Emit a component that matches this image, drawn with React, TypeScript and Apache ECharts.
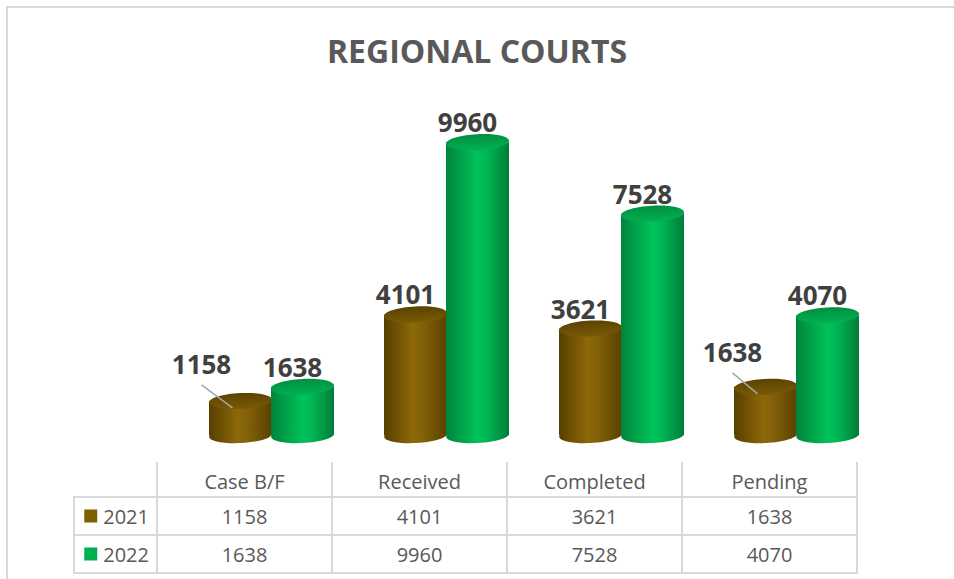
import React, { useEffect, useRef } from "react";
import * as echarts from "echarts";

const categories = ["Case B/F", "Received", "Completed", "Pending"];
const years = ["2021", "2022"];
const values2021 = [1158, 4101, 3621, 1638];
const values2022 = [1638, 9960, 7528, 4070];
const seriesValues = [values2021, values2022];

const FONT = '"Open Sans", "Noto Sans", sans-serif';
const TEXT_GRAY = "#595959";
const LINE_GRAY = "#d9d9d9";

// manual label moves (with leader line), keyed "series-index"
const LABEL_MOVES: Record<string, [number, number]> = {
  "0-0": [-29, -17],
  "0-3": [-23, -15],
};

const palettes = [
  {
    body: [
      [0, "#573f00"],
      [0.45, "#8d6808"],
      [0.6, "#84620a"],
      [1, "#5a4100"],
    ],
    top: [
      [0, "#5a4200"],
      [1, "#7a5a06"],
    ],
  },
  {
    body: [
      [0, "#00843c"],
      [0.5, "#00c25a"],
      [0.65, "#00b653"],
      [1, "#007d38"],
    ],
    top: [
      [0, "#008e40"],
      [1, "#00b252"],
    ],
  },
];

function grad(stops: any[], horizontal: boolean) {
  return new echarts.graphic.LinearGradient(
    0,
    0,
    horizontal ? 1 : 0,
    horizontal ? 0 : 1,
    stops.map(([offset, color]) => ({ offset, color }))
  );
}

function makeCylinder(s: number) {
  return (params: any, api: any) => {
    const i = api.value(0);
    const v = api.value(1);
    const [cx, topY] = api.coord([i, v]);
    const baseY = api.coord([i, 0])[1];
    const w = 63;
    const x0 = s === 0 ? cx - w + 0.5 : cx - 0.5;
    const mid = x0 + w / 2;
    const ry = 8;
    const rot = 0.05;
    const pal = palettes[s];
    const children: any[] = [
      {
        type: "rect",
        shape: { x: x0, y: topY, width: w, height: Math.max(0, baseY - topY) },
        style: { fill: grad(pal.body, true) },
      },
      {
        type: "ellipse",
        shape: { cx: mid, cy: baseY, rx: w / 2, ry },
        rotation: rot,
        originX: mid,
        originY: baseY,
        style: { fill: grad(pal.body, true) },
      },
      {
        type: "ellipse",
        shape: { cx: mid, cy: topY, rx: w / 2, ry },
        rotation: rot,
        originX: mid,
        originY: topY,
        style: { fill: grad(pal.top, false) },
      },
    ];
    let lx = mid - 10;
    let ly = topY - 20;
    const move = LABEL_MOVES[`${s}-${params.dataIndex}`];
    if (move) {
      lx += move[0];
      ly += move[1];
      children.push({
        type: "line",
        shape: { x1: lx, y1: ly + 21, x2: mid - 8, y2: topY + 7 },
        style: { stroke: "#a6a6a6", lineWidth: 1.5 },
      });
    }
    children.push({
      type: "text",
      x: lx,
      y: ly,
      style: {
        text: String(v),
        fill: "#404040",
        fontFamily: FONT,
        fontWeight: "bold",
        fontSize: 26,
        align: "center",
        verticalAlign: "middle",
      },
    });
    return { type: "group", children };
  };
}

export default function App() {
  const ref = useRef<HTMLDivElement>(null);
  useEffect(() => {
    if (!ref.current) return;
    const chart = echarts.init(ref.current, undefined, { renderer: "svg" });
    const tableData: any[] = [];
    seriesValues.forEach((vals, r) =>
      vals.forEach((v, i) => tableData.push([i, r, v]))
    );
    chart.setOption({
      animation: false,
      backgroundColor: "#ffffff",
      textStyle: { fontFamily: FONT },
      title: {
        text: "REGIONAL COURTS",
        left: "center",
        top: 29,
        textStyle: {
          fontFamily: FONT,
          fontWeight: "bold",
          fontSize: 32,
          color: TEXT_GRAY,
        },
      },
      grid: [
        { left: 184, right: 70, top: 141, bottom: 144 },
        {
          left: 157,
          width: 700,
          top: 497,
          height: 76,
          show: true,
          borderColor: LINE_GRAY,
          borderWidth: 2,
        },
      ],
      xAxis: [
        { type: "category", data: categories, gridIndex: 0, show: false },
        {
          type: "category",
          data: categories,
          gridIndex: 1,
          position: "top",
          axisLine: { show: true, lineStyle: { color: LINE_GRAY, width: 2 } },
          axisTick: {
            show: true,
            inside: false,
            length: 35,
            interval: 0,
            lineStyle: { color: LINE_GRAY, width: 2 },
          },
          splitLine: {
            show: true,
            interval: 0,
            lineStyle: { color: LINE_GRAY, width: 2 },
          },
          axisLabel: {
            interval: 0,
            margin: 6,
            color: TEXT_GRAY,
            fontSize: 20,
            lineHeight: 20,
            fontFamily: FONT,
          },
        },
      ],
      yAxis: [
        { type: "value", min: 0, max: 10000, gridIndex: 0, show: false },
        {
          type: "category",
          data: years,
          gridIndex: 1,
          inverse: true,
          axisLine: { show: true, lineStyle: { color: LINE_GRAY, width: 2 } },
          axisTick: {
            show: true,
            inside: false,
            length: 83,
            interval: 0,
            lineStyle: { color: LINE_GRAY, width: 2 },
          },
          splitLine: {
            show: true,
            interval: 0,
            lineStyle: { color: LINE_GRAY, width: 2 },
          },
          axisLabel: {
            margin: 8,
            formatter: (v: string, idx: number) => `{k${idx}|}{t|${v}}`,
            rich: {
              k0: { backgroundColor: "#7F6000", width: 13, height: 13 },
              k1: { backgroundColor: "#00B050", width: 13, height: 13 },
              t: {
                color: TEXT_GRAY,
                fontSize: 20,
                fontFamily: FONT,
                padding: [0, 0, 0, 6],
              },
            },
          },
        },
      ],
      graphic: [
        {
          type: "rect",
          shape: { x: 7, y: 7, width: 960, height: 600 },
          style: { fill: "none", stroke: LINE_GRAY, lineWidth: 2 },
          silent: true,
        },
        {
          type: "line",
          shape: { x1: 74, y1: 496, x2: 74, y2: 574 },
          style: { stroke: LINE_GRAY, lineWidth: 2 },
          silent: true,
        },
      ],
      series: [
        ...seriesValues.map((vals, s) => ({
          type: "custom",
          name: years[s],
          xAxisIndex: 0,
          yAxisIndex: 0,
          data: vals.map((v, i) => [i, v]),
          encode: { x: 0, y: 1 },
          renderItem: makeCylinder(s),
          z: 2 + s,
        })),
        {
          type: "custom",
          xAxisIndex: 1,
          yAxisIndex: 1,
          data: tableData,
          encode: { x: 0, y: 1 },
          renderItem: (params: any, api: any) => {
            const [x, y] = api.coord([api.value(0), api.value(1)]);
            return {
              type: "text",
              x,
              y,
              style: {
                text: String(api.value(2)),
                fill: TEXT_GRAY,
                fontFamily: FONT,
                fontSize: 20,
                align: "center",
                verticalAlign: "middle",
              },
            };
          },
        },
      ],
    });
    return () => chart.dispose();
  }, []);
  return (
    <div
      ref={ref}
      style={{
        position: "fixed",
        left: 0,
        top: 0,
        width: 954,
        height: 579,
        background: "#fff",
      }}
    />
  );
}
